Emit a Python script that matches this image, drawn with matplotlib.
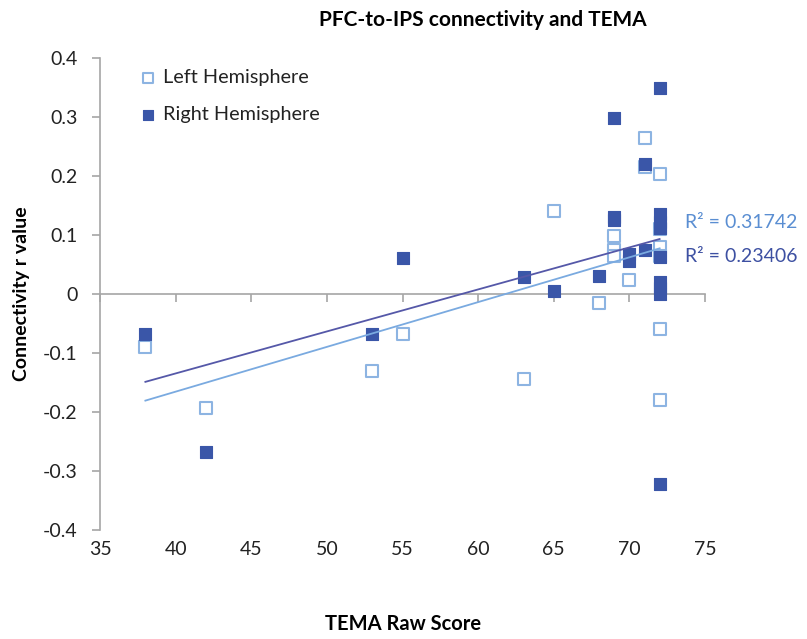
import numpy as np
import matplotlib
matplotlib.use("Agg")
import matplotlib.pyplot as plt

# ---- data ----
left_x = [38, 42, 53, 55, 63, 65, 68, 69, 69, 69, 70, 71, 71, 72, 72, 72, 72, 72, 72]
left_y = [-0.09, -0.193, -0.13, -0.068, -0.144, 0.14, -0.015, 0.098, 0.075, 0.065,
          0.024, 0.265, 0.215, 0.203, 0.11, 0.08, 0.065, -0.06, -0.18]
right_x = [38, 42, 53, 55, 63, 65, 68, 69, 69, 69, 70, 70, 71, 71, 72, 72, 72, 72,
           72, 72, 72, 72, 72]
right_y = [-0.068, -0.268, -0.068, 0.061, 0.029, 0.005, 0.03, 0.298, 0.13, 0.125,
           0.068, 0.056, 0.22, 0.075, 0.35, 0.135, 0.122, 0.112, 0.062, 0.02, 0.01,
           0.0, -0.322]
r2_left_label = "R² = 0.31742"
r2_right_label = "R² = 0.23406"
x_ticks = [35, 40, 45, 50, 55, 60, 65, 70, 75]
y_ticks = [-0.4, -0.3, -0.2, -0.1, 0, 0.1, 0.2, 0.3, 0.4]
y_tick_labels = ["-0.4", "-0.3", "-0.2", "-0.1", "0", "0.1", "0.2", "0.3", "0.4"]

plt.rcParams['font.family'] = ['Lato', 'DejaVu Sans']

dark = "#3A56A8"
light = "#8DB4E2"
dark_line = "#5558A8"
light_line = "#7AAAE0"
axis_gray = "#A6A6A6"

fig = plt.figure(figsize=(8.07, 6.39), dpi=100)
ax = fig.add_axes([100/807, 1-530/639, 605/807, 472/639])

ax.scatter(left_x, left_y, marker='s', s=76, facecolors='white', edgecolors=light,
           linewidths=1.5, label="Left Hemisphere", zorder=3)
ax.scatter(right_x, right_y, marker='s', s=76, facecolors=dark, edgecolors=dark,
           linewidths=0.8, label="Right Hemisphere", zorder=4)

# linear trendlines
for xs, ys, col in [(left_x, left_y, light_line), (right_x, right_y, dark_line)]:
    xs = np.array(xs, float); ys = np.array(ys, float)
    m, b = np.polyfit(xs, ys, 1)
    xx = np.array([xs.min(), xs.max()])
    ax.plot(xx, m*xx + b, color=col, lw=1.3, zorder=5)

ax.text(73.7, 0.122, r2_left_label, color="#5A8ED2", fontsize=14, va='center',
        ha='left', clip_on=False)
ax.text(73.7, 0.064, r2_right_label, color="#3D50A2", fontsize=14, va='center',
        ha='left', clip_on=False)

ax.set_xlim(35, 75)
ax.set_ylim(-0.4, 0.4)
ax.set_yticks(y_ticks)
ax.set_yticklabels(y_tick_labels)
ax.set_xticks(x_ticks)

for s in ['top', 'right']:
    ax.spines[s].set_visible(False)
ax.spines['left'].set_color(axis_gray)
ax.spines['left'].set_linewidth(1.2)
ax.spines['bottom'].set_position(('data', 0))
ax.spines['bottom'].set_color(axis_gray)
ax.spines['bottom'].set_linewidth(1.2)
ax.tick_params(axis='y', direction='out', length=6, width=1.2, color=axis_gray,
               labelsize=14, labelcolor='#222222', pad=10)
ax.tick_params(axis='x', direction='out', length=6, width=1.2, color=axis_gray,
               labelbottom=False)

sec = ax.secondary_xaxis(0)
sec.set_xticks(x_ticks)
sec.spines['bottom'].set_visible(False)
sec.tick_params(length=0, labelsize=14, labelcolor='#222222', pad=8)

fig.text(22/807, 1-294/639, "Connectivity r value", rotation=90, fontsize=14,
         fontweight='bold', ha='center', va='center')
fig.text(403/807, 1-624/639, "TEMA Raw Score", fontsize=14.5, fontweight='bold',
         ha='center', va='center')
fig.text(483/807, 1-20/639, "PFC-to-IPS connectivity and TEMA", fontsize=15,
         fontweight='bold', ha='center', va='center')

leg = ax.legend(loc='upper left', bbox_to_anchor=(0.05, 0.993), frameon=False,
                fontsize=14.3, markerscale=0.75, handletextpad=0.25, labelspacing=1.0,
                borderaxespad=0, handlelength=1.0)
for t in leg.get_texts():
    t.set_color('#222222')

fig.savefig("out.png", dpi=100)
